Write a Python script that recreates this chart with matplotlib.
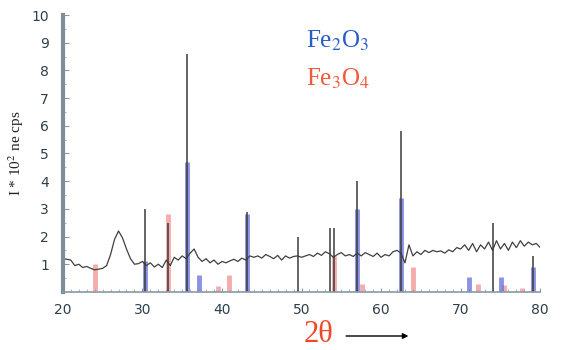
import numpy as np
import matplotlib
matplotlib.use('Agg')
from matplotlib import pyplot as plt

plt.rcParams['mathtext.fontset'] = 'stix'

# background (noise) of the pattern, sampled every 0.5 deg from 20 to 80
bg_x = np.arange(20, 80.01, 0.5)
bg_y = [1.20, 1.18, 1.15, 0.95, 1.00, 0.88, 0.92, 0.85, 0.80, 0.82,
        0.85, 0.95, 1.35, 1.90, 2.20, 1.95, 1.55, 1.20, 1.00, 1.02,
        1.10, 0.95, 1.05, 0.90, 1.00, 0.88, 1.15, 0.95, 1.25, 1.15,
        1.30, 1.20, 1.40, 1.55, 1.25, 1.10, 1.20, 1.05, 1.15, 1.00,
        1.10, 1.05, 1.12, 1.18, 1.10, 1.22, 1.15, 1.30, 1.25, 1.30,
        1.22, 1.35, 1.28, 1.20, 1.32, 1.15, 1.30, 1.22, 1.28, 1.30,
        1.25, 1.30, 1.35, 1.28, 1.40, 1.32, 1.45, 1.38, 1.25, 1.35,
        1.42, 1.30, 1.35, 1.28, 1.40, 1.30, 1.42, 1.35, 1.28, 1.40,
        1.25, 1.35, 1.30, 1.45, 1.50, 1.40, 1.05, 1.70, 1.30, 1.45,
        1.35, 1.50, 1.42, 1.50, 1.45, 1.48, 1.40, 1.52, 1.45, 1.60,
        1.55, 1.70, 1.50, 1.75, 1.45, 1.70, 1.55, 1.80, 1.50, 1.85,
        1.55, 1.75, 1.50, 1.80, 1.60, 1.85, 1.65, 1.80, 1.70, 1.75,
        1.60]

# measured peaks (vertical sticks)
pk_x = [30.3, 33.2, 35.6, 43.1, 49.6, 53.6, 54.1, 57.0, 62.5, 74.1, 79.1]
pk_h = [3.0, 2.5, 8.6, 2.9, 2.0, 2.3, 2.3, 4.0, 5.8, 2.5, 1.3]

# reference lines
fe2o3_x = [30.3, 35.6, 37.1, 43.1, 57.0, 62.5, 71.1, 75.1, 79.1]
fe2o3_h = [1.1, 4.7, 0.6, 2.8, 3.0, 3.4, 0.55, 0.55, 0.9]
fe3o4_x = [24.1, 33.2, 39.5, 40.9, 54.1, 57.6, 64.0, 72.2, 75.4, 77.7]
fe3o4_h = [1.0, 2.8, 0.2, 0.6, 1.3, 0.3, 0.9, 0.3, 0.25, 0.15]

fig = plt.figure(figsize=(5.61, 3.5), dpi=100)
ax = fig.add_axes([0.112, 0.166, 0.851, 0.791])

ax.vlines(fe3o4_x, 0, fe3o4_h, color='#f08a8a', lw=3.5, alpha=0.7)
ax.vlines(fe2o3_x, 0, fe2o3_h, color='#5a64d8', lw=3.5, alpha=0.7)
ax.plot(bg_x, bg_y, color='#404040', lw=0.9)
ax.vlines(pk_x, 0, pk_h, color='#3a3a3a', lw=1.1)

ax.set_xlim(20, 80)
ax.set_ylim(0, 10)
ax.set_xticks(range(20, 81, 10))
ax.set_xticks(np.arange(20, 80.1, 1), minor=True)
ax.set_yticks(range(1, 11))
ax.set_yticks(np.arange(0, 10.1, 0.5), minor=True)
ax.tick_params(axis='both', labelsize=10, labelcolor='#2f3f4a', color='#8a9aa5')
ax.tick_params(axis='x', direction='in', length=3, pad=8)
ax.tick_params(axis='y', direction='in', length=4, pad=10)
ax.tick_params(which='minor', direction='in', length=2, color='#9aa8b0')

for s in ['top', 'right']:
    ax.spines[s].set_visible(False)
ax.spines['left'].set_color('#7d8e98')
ax.spines['left'].set_linewidth(3)
ax.spines['bottom'].set_color('#8a9aa5')
ax.spines['bottom'].set_linewidth(1.2)

ax.set_ylabel(r'I * 10$^2$ ne cps', family='Liberation Serif', fontsize=11,
              color='#222222', labelpad=4)

fig.text(0.545, 0.865, r'Fe$_2$O$_3$', color='#2a5cc8', fontsize=18,
         family='Liberation Serif')
fig.text(0.545, 0.755, r'Fe$_3$O$_4$', color='#ee5a3a', fontsize=18,
         family='Liberation Serif')

fig.text(0.568, 0.043, '2θ', color='#ee4a2a', fontsize=22,
         family='Liberation Serif', ha='center', va='center')
fig.add_artist(matplotlib.patches.FancyArrowPatch(
    (0.612, 0.04), (0.733, 0.04), transform=fig.transFigure,
    arrowstyle='-|>', mutation_scale=8, color='black', lw=1))

plt.savefig('out.png', dpi=100)
